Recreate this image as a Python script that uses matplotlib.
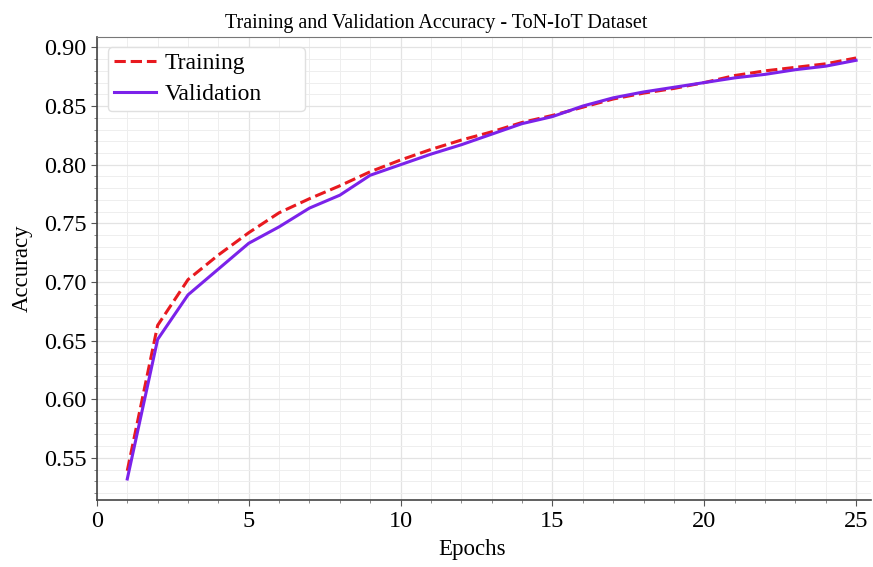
import matplotlib.pyplot as plt
from matplotlib.ticker import MultipleLocator

plt.rcParams['font.family'] = ['Liberation Serif', 'DejaVu Serif']

epochs = list(range(1, 26))
train_acc = [0.539, 0.663, 0.702, 0.723, 0.742, 0.759, 0.771, 0.782, 0.794, 0.804,
             0.813, 0.821, 0.828, 0.836, 0.842, 0.849, 0.856, 0.861, 0.865, 0.870,
             0.876, 0.880, 0.883, 0.886, 0.891]
val_acc = [0.532, 0.651, 0.689, 0.711, 0.733, 0.747, 0.763, 0.774, 0.791, 0.800,
           0.809, 0.817, 0.826, 0.835, 0.841, 0.850, 0.857, 0.862, 0.866, 0.870,
           0.874, 0.877, 0.881, 0.884, 0.889]

fig = plt.figure(figsize=(8.73, 5.67), dpi=100)
ax = fig.add_axes([0.111, 0.118, 0.887, 0.817])

ax.plot(epochs, train_acc, color='#e8191f', linestyle='--', linewidth=2.2, label='Training', zorder=3)
ax.plot(epochs, val_acc, color='#7b22ea', linewidth=2.2, label='Validation', zorder=3)

ax.set_xlim(0, 25.5)
ax.set_ylim(0.514, 0.909)
ax.xaxis.set_major_locator(MultipleLocator(5))
ax.xaxis.set_minor_locator(MultipleLocator(1))
ax.yaxis.set_major_locator(MultipleLocator(0.05))
ax.yaxis.set_minor_locator(MultipleLocator(0.01))
ax.grid(which='major', color='#e3e3e3', linewidth=0.9)
ax.grid(which='minor', color='#eeeeee', linewidth=0.7)
ax.set_axisbelow(True)

ax.tick_params(axis='both', which='major', labelsize=17.5, length=4, color='#555555')
ax.tick_params(axis='both', which='minor', length=2.5, color='#777777')
for side in ['left', 'bottom']:
    ax.spines[side].set_color('#444444')
    ax.spines[side].set_linewidth(1.2)
ax.spines['top'].set_color('#777777')
ax.spines['right'].set_visible(False)

fig.suptitle('Training and Validation Accuracy - ToN-IoT Dataset', fontsize=14.5, x=0.5, y=0.975)
ax.set_xlabel('Epochs', fontsize=16.5, labelpad=6)
ax.xaxis.set_label_coords(0.485, -0.085)
ax.set_ylabel('Accuracy', fontsize=16.5, labelpad=8)

# legend box in the original is wider than its contents
ax.legend(loc='upper left', bbox_to_anchor=(0.014, 0.0, 0.255, 0.978), mode='expand',
          borderaxespad=0, fontsize=17, frameon=True, framealpha=1, edgecolor='#e0e0e0',
          handlelength=1.8, handletextpad=0.35, borderpad=0.25, labelspacing=0.4)

fig.savefig('out.png', dpi=100)
